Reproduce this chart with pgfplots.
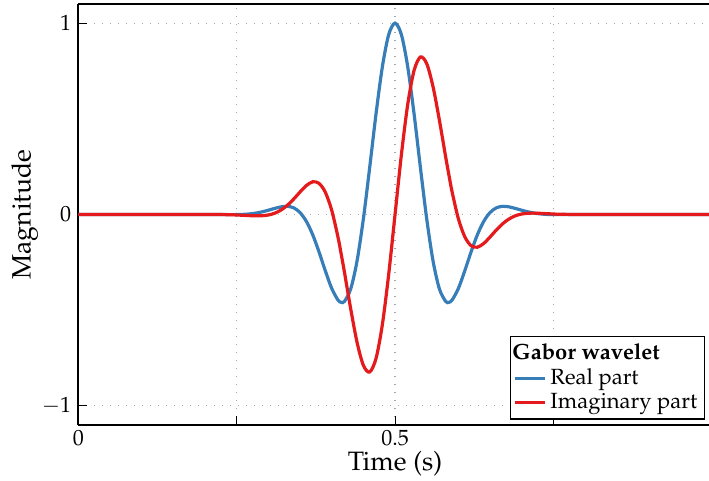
\documentclass[border=0pt]{standalone}
\usepackage[T1]{fontenc}
\usepackage{mathpazo}
\usepackage{pgfplots}
\usepackage{pgfplotstable}
\pgfplotsset{compat=1.18}
\definecolor{cblue}{RGB}{55,126,184}
\definecolor{cred}{RGB}{228,26,28}
\pgfplotstableread{
t re im
0.00 0 0
0.20 0 0
0.24 -0.0007 -0.0014
0.25 -0.0004 -0.0026
0.26 0.0005 -0.0042
0.27 0.0029 -0.0059
0.28 0.0071 -0.0071
0.29 0.0137 -0.0064
0.30 0.0222 -0.0026
0.31 0.0317 0.0066
0.32 0.0398 0.0232
0.33 0.0426 0.0481
0.34 0.0349 0.0806
0.35 0.0103 0.1175
0.36 -0.0360 0.1512
0.37 -0.1056 0.1708
0.38 -0.1956 0.1630
0.39 -0.2949 0.1158
0.40 -0.3861 0.0226
0.41 -0.4476 -0.1194
0.415 -0.4589 -0.2070
0.42 -0.4545 -0.2991
0.43 -0.3889 -0.4929
0.44 -0.2430 -0.6675
0.45 -0.0230 -0.7883
0.46 0.2463 -0.8229
0.47 0.5265 -0.7521
0.48 0.7722 -0.5749
0.49 0.9403 -0.3116
0.50 1.0000 0.0000
0.51 0.9403 0.3116
0.52 0.7722 0.5749
0.53 0.5265 0.7521
0.54 0.2463 0.8229
0.55 -0.0230 0.7883
0.56 -0.2430 0.6675
0.57 -0.3889 0.4929
0.58 -0.4545 0.2991
0.585 -0.4589 0.2070
0.59 -0.4476 0.1194
0.60 -0.3861 -0.0226
0.61 -0.2949 -0.1158
0.62 -0.1956 -0.1630
0.63 -0.1056 -0.1708
0.64 -0.0360 -0.1512
0.65 0.0103 -0.1175
0.66 0.0349 -0.0806
0.67 0.0426 -0.0481
0.68 0.0398 -0.0232
0.69 0.0317 -0.0066
0.70 0.0222 0.0026
0.71 0.0137 0.0064
0.72 0.0071 0.0071
0.73 0.0029 0.0059
0.74 0.0005 0.0042
0.75 -0.0004 0.0026
0.76 -0.0007 0.0014
0.80 0 0
1.00 0 0
}\gabor
\begin{document}
\begin{tikzpicture}
\begin{axis}[
  scale only axis, width=316.75pt, height=210.5pt,
  xmin=0, xmax=1, ymin=-1.1, ymax=1.1,
  axis x line=box, axis y line=left,
  axis line style={-, line width=1.2pt},
  xtick={0,0.25,0.5,0.75,1}, xticklabels={0,,0.5,,},
  ytick={-1,0,1},
  xtick pos=bottom, ytick pos=left, tick align=inside,
  major tick style={line width=0.5pt, black},
  tick label style={font=\fontsize{11}{13}\selectfont},
  xticklabel style={yshift=1pt},
  label style={font=\fontsize{13.3}{16}\selectfont},
  grid=major,
  grid style={gray!70, line width=0.6pt, dash pattern=on 0.6pt off 3.4pt},
  xlabel={Time (s)}, ylabel={Magnitude},
  xlabel style={yshift=4pt},
  ylabel style={yshift=-5pt},
  legend style={at={(0.989,0.013)}, anchor=south east, draw=black,
    line width=0.6pt, cells={anchor=west}, inner sep=1.5pt,
    row sep=-1pt, font=\fontsize{11}{13}\selectfont},
  legend image code/.code={\draw[#1] (0pt,0pt) -- (15pt,0pt);},
  every axis plot/.append style={line width=1.6pt},
]
\addlegendimage{empty legend}
\addlegendentry{\hspace*{-19pt}\textbf{Gabor wavelet}}
\addplot[cblue, smooth] table[x=t, y=re] {\gabor};
\addlegendentry{Real part}
\addplot[cred, smooth] table[x=t, y=im] {\gabor};
\addlegendentry{Imaginary part}
\end{axis}
\pgfresetboundingbox
\path (current axis.south west) ++(-39.15pt,-28pt) rectangle ([shift={(-1.4pt,2pt)}]current axis.north east);
\end{tikzpicture}
\end{document}
